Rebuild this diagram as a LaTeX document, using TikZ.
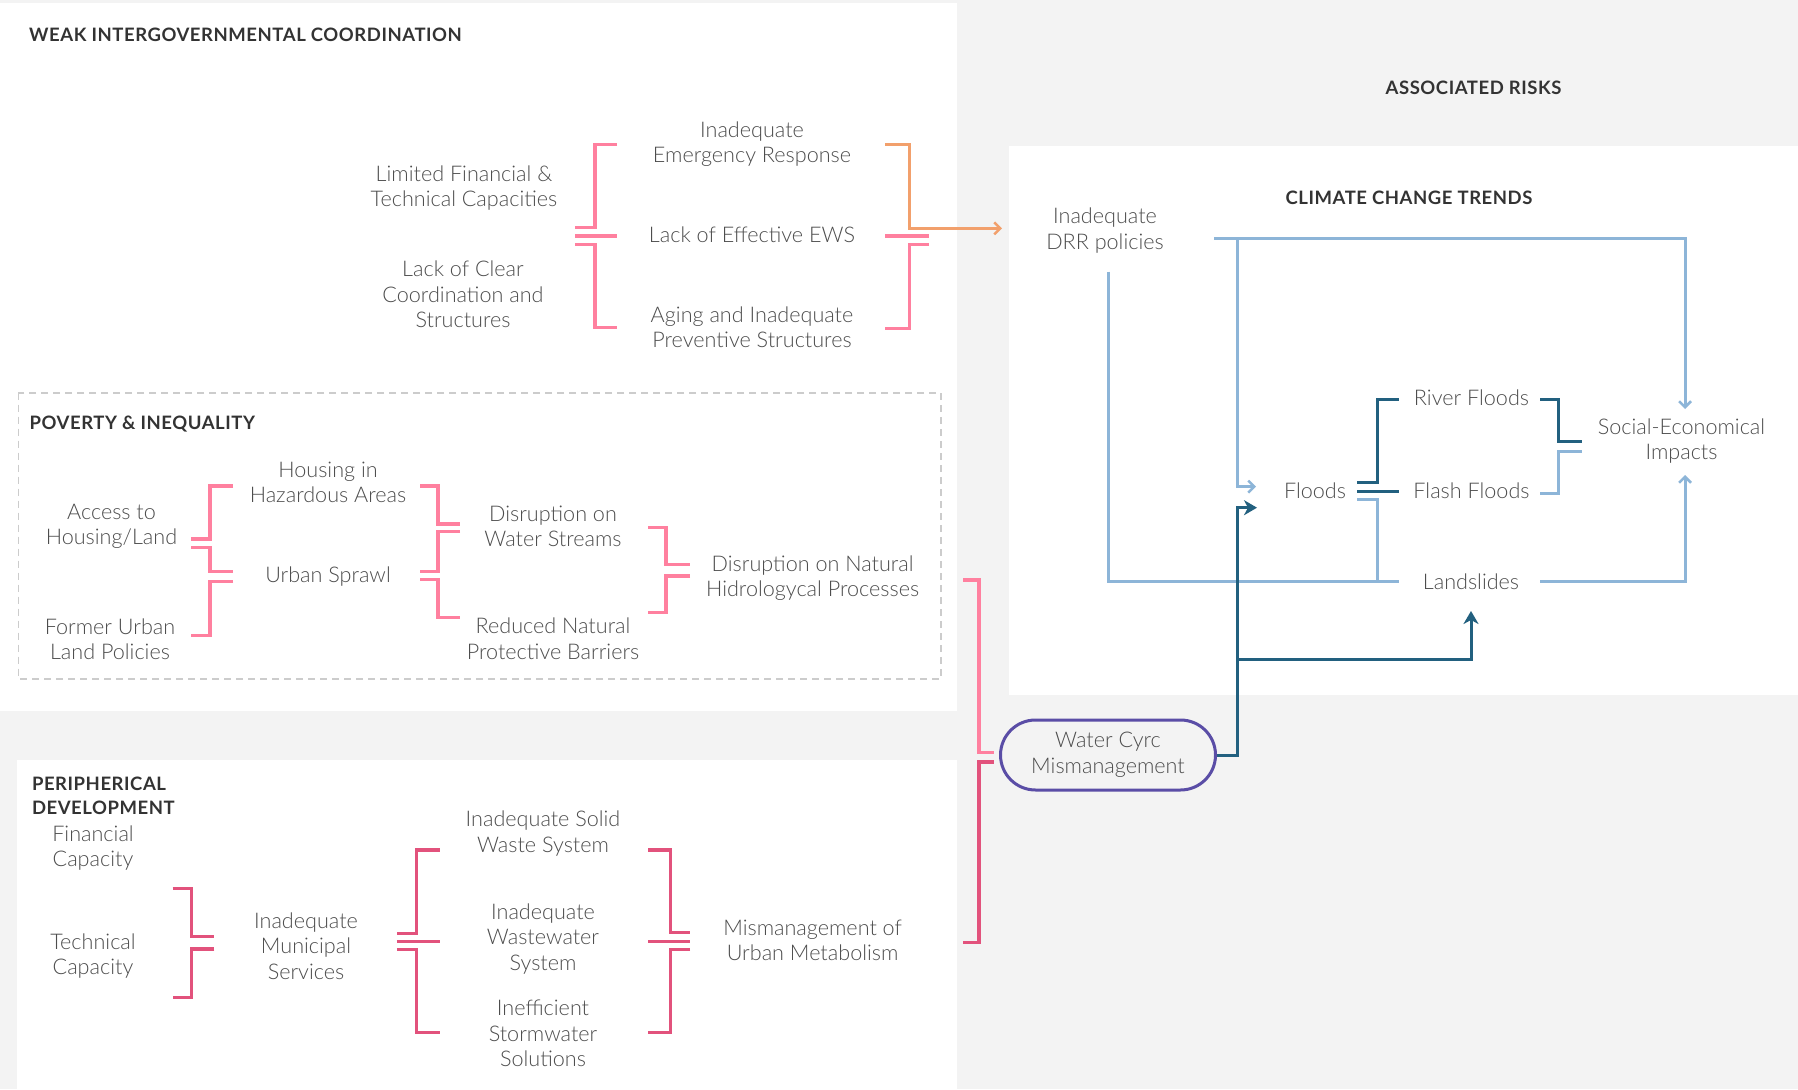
\documentclass[tikz,border=0pt]{standalone}
\usepackage{fontspec}
\setmainfont{Lato Light}[BoldFont={Lato Bold}]
\newfontfamily\headfamily{Lato Bold}[LetterSpace=3]
\usetikzlibrary{arrows.meta}

\definecolor{bggray}{HTML}{F3F3F3}
\definecolor{txtgray}{HTML}{4D4D4D}
\definecolor{headgray}{HTML}{333333}
\definecolor{dashgray}{HTML}{CCCCCC}
\definecolor{pinkA}{HTML}{FF809F}
\definecolor{crimson}{HTML}{E2527C}
\definecolor{orangeA}{HTML}{F2A06C}
\definecolor{lblue}{HTML}{8DB5D8}
\definecolor{dteal}{HTML}{22607F}
\definecolor{purpleW}{HTML}{5A4DA6}

\newcommand\bodyfnt{\fontsize{21.6}{25.5}\selectfont}
\newcommand\headfnt{\headfamily\fontsize{18.5}{24}\selectfont}

\begin{document}
\begin{tikzpicture}[x=1pt,y=-1pt,
  txt/.style={align=center,inner sep=0pt,text=txtgray,font=\bodyfnt},
  head/.style={anchor=west,align=left,inner sep=0pt,text=headgray,font=\headfnt},
  brA/.style={draw=pinkA,line width=3.2pt},
  brC/.style={draw=crimson,line width=3.2pt},
  brO/.style={draw=orangeA,line width=3.2pt},
  lb/.style={draw=lblue,line width=3pt},
  dk/.style={draw=dteal,line width=3pt},
  lbarrow/.style={-{Straight Barb[length=6pt,width=12pt,line width=2.5pt]}},
  dkarrow/.style={-{Stealth[length=13pt,width=15pt,inset=4pt]}},
  stadium/.style={draw=purpleW,line width=3pt,rounded corners=35pt,minimum width=215pt,minimum height=70pt,align=center,inner sep=0pt,text=txtgray,font=\bodyfnt}
]
\useasboundingbox (0,0) rectangle (1798,1089);

% background and panels
\fill[bggray] (0,0) rectangle (1798,1089);
\fill[white] (0,3) rectangle (957,711);
\fill[white] (17,760) rectangle (957,1089);
\fill[white] (1009,146) rectangle (1798,695);
\draw[dashgray,line width=1.6pt,dash pattern=on 7pt off 5pt] (18.4,392.7) rectangle (941,679);

% headings
\node[head] (hweak) at (29,34.4) {WEAK INTERGOVERNMENTAL COORDINATION};
\node[head,anchor=center] (hrisks) at (1473.5,88.3) {ASSOCIATED RISKS};
\node[head,anchor=center] (hclim) at (1409,197.7) {CLIMATE CHANGE TRENDS};
\node[head] (hpov) at (29.4,424.3) {POVERTY \& INEQUALITY};
\node[head] (hper) at (31.8,795.5) {PERIPHERICAL\\DEVELOPMENT};

% ---- weak intergovernmental coordination
\node[txt] (limfin) at (464,188) {Limited Financial \&\\Technical Capacities};
\node[txt] (lackclear) at (463,294.5) {Lack of Clear\\Coordination and\\Structures};
\node[txt] (emerg) at (752,144.2) {Inadequate\\Emergency Response};
\node[txt] (ews) at (752,235) {Lack of Effective EWS};
\node[txt] (aging) at (752,327.2) {Aging and Inadequate\\Preventive Structures};

\draw[brA] (617,144.3) -- (595,144.3) -- (595,227.7) -- (575,227.7);
\draw[brA] (575,236) -- (617,236);
\draw[brA] (575,244.3) -- (595,244.3) -- (595,327.7) -- (617,327.7);

\coordinate (drrin) at (1002,228.3);
\draw[brO,lbarrow] (885,144.3) -- (909.4,144.3) -- (909.4,228.3) -- (drrin);
\draw[brA] (885,236) -- (929,236);
\draw[brA] (929,244.3) -- (909.4,244.3) -- (909.4,328.3) -- (885,328.3);

% ---- poverty & inequality
\node[txt] (access) at (111.5,526.2) {Access to\\Housing/Land};
\node[txt] (former) at (110,639.2) {Former Urban\\Land Policies};
\node[txt] (hazard) at (328,482.2) {Housing in\\Hazardous Areas};
\node[txt] (sprawl) at (328,576.7) {Urban Sprawl};
\node[txt] (streams) at (553,526.2) {Disruption on\\Water Streams};
\node[txt] (reduced) at (553,638.9) {Reduced Natural\\Protective Barriers};
\node[txt] (hydro) at (812.6,577.9) {Disruption on Natural\\Hidrologycal Processes};

\draw[brA] (233,486) -- (210,486) -- (210,539) -- (191,539);
\draw[brA] (191,547.7) -- (210,547.7) -- (210,571.7) -- (233,571.7);
\draw[brA] (233,581.3) -- (210,581.3) -- (210,635.3) -- (191,635.3);

\draw[brA] (420,486) -- (438,486) -- (438,524) -- (460,524);
\draw[brA] (460,531.7) -- (438,531.7) -- (438,571.7) -- (420,571.7);
\draw[brA] (420,579.3) -- (438,579.3) -- (438,617.3) -- (460,617.3);

\draw[brA] (648,527.7) -- (666,527.7) -- (666,564.3) -- (690,564.3);
\draw[brA] (690,576) -- (666,576) -- (666,612.7) -- (648,612.7);

% ---- peripherical development
\node[txt] (fincap) at (93,848) {Financial\\Capacity};
\node[txt] (techcap) at (93,956) {Technical\\Capacity};
\node[txt] (munic) at (306,946.2) {Inadequate\\Municipal\\Services};
\node[txt] (solid) at (543,833.3) {Inadequate Solid\\Waste System};
\node[txt] (wastew) at (543,938.6) {Inadequate\\Wastewater\\System};
\node[txt] (storm) at (543,1033.5) {Inefficient\\Stormwater\\Solutions};
\node[txt] (metab) at (812.6,940.3) {Mismanagement of\\Urban Metabolism};

\draw[brC] (172.7,888.3) -- (191.7,888.3) -- (191.7,936.7) -- (214.3,936.7);
\draw[brC] (214.3,949) -- (191.7,949) -- (191.7,997.3) -- (172.7,997.3);

\draw[brC] (439.7,850) -- (416.4,850) -- (416.4,933.3) -- (396.8,933.3);
\draw[brC] (396.8,941.3) -- (439.7,941.3);
\draw[brC] (396.8,949.3) -- (416.4,949.3) -- (416.4,1032.3) -- (439.7,1032.3);

\draw[brC] (648,850) -- (670.5,850) -- (670.5,932.7) -- (690,932.7);
\draw[brC] (648,941.3) -- (690,941.3);
\draw[brC] (690,949.3) -- (670.5,949.3) -- (670.5,1032.3) -- (648,1032.3);

% ---- water cycle node and its feeding brackets
\node[stadium] (water) at (1108,755) {Water Cyrc\\Mismanagement};
\draw[brA] (963,580) -- (979,580) -- (979,752.7) -- (993.7,752.7);
\draw[brC] (993.7,762) -- (979,762) -- (979,942.6) -- (963,942.6);

% ---- associated risks
\node[txt] (drr) at (1105,230.5) {Inadequate\\DRR policies};
\node[txt] (floods) at (1315,490.7) {Floods};
\node[txt] (river) at (1471.5,398) {River Floods};
\node[txt] (flash) at (1471.5,490.7) {Flash Floods};
\node[txt] (socio) at (1681.5,441) {Social-Economical\\Impacts};
\node[txt] (land) at (1471,581.7) {Landslides};

\draw[lb,lbarrow] (1214,238.7) -- (1685,238.7) -- (1685,409);
\draw[lb,lbarrow] (1237,238.7) -- (1237,486.7) -- (1256,486.7);
\draw[lb] (1108,271.7) -- (1108,581) -- (1399,581);
\draw[lb] (1357,499) -- (1377,499) -- (1377,581);
\draw[lb] (1540,493) -- (1558.6,493) -- (1558.6,451.7) -- (1581.6,451.7);
\draw[lb,lbarrow] (1540,581) -- (1685,581) -- (1685,475);

\draw[dk] (1357,482.7) -- (1377,482.7) -- (1377,399.3) -- (1399,399.3);
\draw[dk] (1357,491) -- (1399,491);
\draw[dk] (1540,399.3) -- (1558.6,399.3) -- (1558.6,441) -- (1581.6,441);

\draw[dk,dkarrow] (water.east) -- (1237,755) -- (1237,507.7) -- (1257,507.7);
\draw[dk,dkarrow] (1237,659) -- (1471,659) -- (1471,611);
\end{tikzpicture}
\end{document}
